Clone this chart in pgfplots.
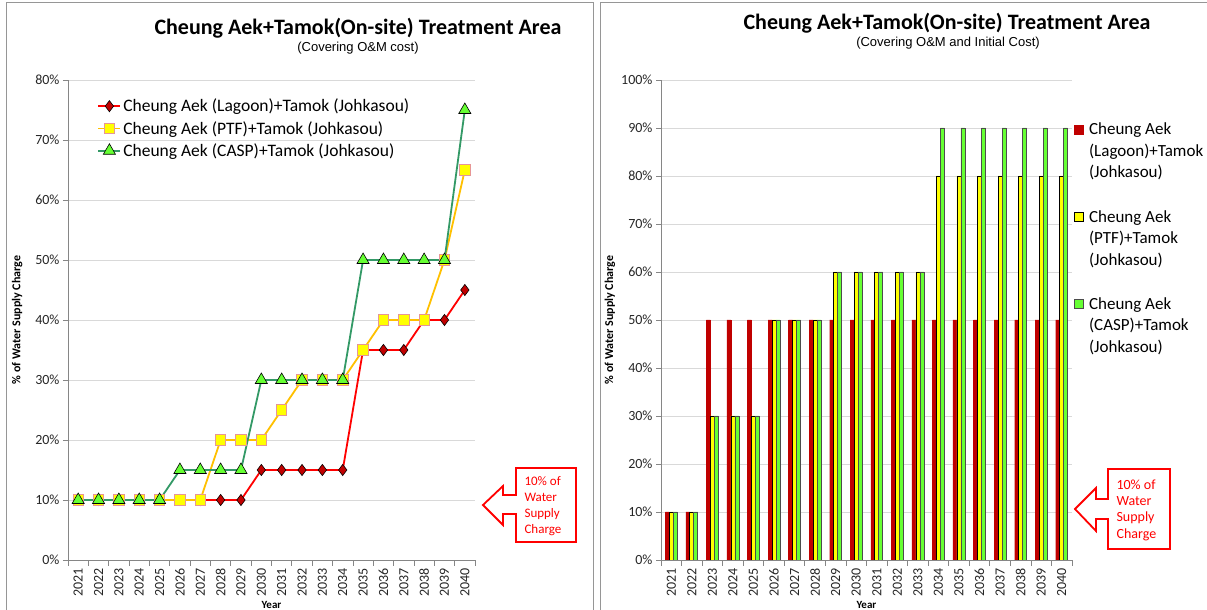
\documentclass[border=0pt]{standalone}
\usepackage{fontspec}
\setmainfont{Carlito}
\newfontfamily\arialfont{Liberation Sans}
\usepackage{pgfplots}
\usepackage{pgfplotstable}
\pgfplotsset{compat=1.18}

\definecolor{lagoonline}{RGB}{255,0,0}
\definecolor{lagoonfill}{RGB}{192,0,0}
\definecolor{ptfline}{RGB}{255,192,0}
\definecolor{ptffill}{RGB}{255,255,0}
\definecolor{ptfedge}{RGB}{230,150,150}
\definecolor{caspline}{RGB}{51,153,102}
\definecolor{caspfill}{RGB}{102,255,51}
\definecolor{gridgray}{RGB}{217,217,217}
\definecolor{axisgray}{RGB}{134,134,134}
\definecolor{framegray}{RGB}{150,150,150}

% O&M only (left panel), years 2021..2040 as 0..19
\pgfplotstableread{
x lagoon ptf casp
0 10 10 10
1 10 10 10
2 10 10 10
3 10 10 10
4 10 10 10
5 10 10 15
6 10 10 15
7 10 20 15
8 10 20 15
9 15 20 30
10 15 25 30
11 15 30 30
12 15 30 30
13 15 30 30
14 35 35 50
15 35 40 50
16 35 40 50
17 40 40 50
18 40 50 50
19 45 65 75
}\omdata

% O&M and initial cost (right panel)
\pgfplotstableread{
x lagoon ptf casp
0 10 10 10
1 10 10 10
2 50 30 30
3 50 30 30
4 50 30 30
5 50 50 50
6 50 50 50
7 50 50 50
8 50 60 60
9 50 60 60
10 50 60 60
11 50 60 60
12 50 60 60
13 50 80 90
14 50 80 90
15 50 80 90
16 50 80 90
17 50 80 90
18 50 80 90
19 50 80 90
}\initdata

\pgfplotsset{
  panel/.style={
    scale only axis, anchor=south west, height=480pt,
    xmin=-0.5, xmax=19.5,
    xtick={0,...,19},
    xticklabels={2021,2022,2023,2024,2025,2026,2027,2028,2029,2030,
                 2031,2032,2033,2034,2035,2036,2037,2038,2039,2040},
    minor xtick={-0.5,0.5,...,19.5},
    major x tick style={draw=none},
    minor x tick style={axisgray, line width=0.8pt},
    minor tick length=6pt,
    y tick style={axisgray, line width=0.8pt},
    major tick length=5pt,
    tick align=outside,
    axis x line*=bottom, axis y line*=left,
    axis line style={axisgray, line width=0.9pt, -},
    ymajorgrids, grid style={gridgray, line width=0.8pt},
    ymin=0,
    yticklabel={\pgfmathparse{int(\tick)}\pgfmathresult\%},
    tick label style={font=\fontsize{14}{14}\selectfont, text=black!85},
    xticklabel style={rotate=90, anchor=east},
    xlabel={Year},
    xlabel style={font=\bfseries\fontsize{11}{11}\selectfont,
      at={(axis description cs:0.5,0)}, anchor=center, yshift=-45pt},
    ylabel={\% of Water Supply Charge},
    ylabel style={font=\bfseries\fontsize{12}{12}\selectfont, anchor=center},
  }
}

\begin{document}
\begin{tikzpicture}
% panel frames
\draw[framegray, line width=1pt] (6pt,-5pt) -- (6pt,607pt) -- (593pt,607pt) -- (593pt,-5pt);
\draw[framegray, line width=1pt] (600pt,-5pt) -- (600pt,607pt) -- (1212pt,607pt);

% titles
\node[font=\bfseries\fontsize{22}{22}\selectfont] at (358pt,582pt) {Cheung Aek+Tamok(On-site) Treatment Area};
\node[font=\arialfont\fontsize{13}{13}\selectfont] at (358pt,562pt) {(Covering O\&M cost)};
\node[font=\bfseries\fontsize{22}{22}\selectfont] at (947pt,587pt) {Cheung Aek+Tamok(On-site) Treatment Area};
\node[font=\arialfont\fontsize{13}{13}\selectfont] at (948pt,567pt) {(Covering O\&M and Initial Cost)};

% left panel: line chart
\begin{axis}[panel, at={(68pt,50pt)}, width=407pt, ymax=80, ytick={0,10,...,80},
  ylabel style={at={(axis description cs:-0.125,0.5)}},
  legend style={at={(axis description cs:0.072,0.965)}, anchor=north west,
    draw=none, fill=none, inner sep=0pt, row sep=4pt,
    font=\fontsize{17.5}{17.5}\selectfont},
  legend cell align=left,
  legend image code/.code={\draw[mark repeat=2,mark phase=2,#1]
    plot coordinates {(0pt,0pt) (11pt,0pt) (22pt,0pt)};},
]
\addplot[lagoonline, line width=1.8pt, mark=diamond*, mark size=5.6pt,
  mark options={fill=lagoonfill, draw=black, line width=0.6pt}]
  table[x=x, y=lagoon] {\omdata};
\addlegendentry{Cheung Aek (Lagoon)+Tamok (Johkasou)}
\addplot[ptfline, line width=1.8pt, mark=square*, mark size=5.2pt,
  mark options={fill=ptffill, draw=ptfedge, line width=0.8pt}]
  table[x=x, y=ptf] {\omdata};
\addlegendentry{Cheung Aek (PTF)+Tamok (Johkasou)}
\addplot[caspline, line width=1.8pt, mark=triangle*, mark size=7pt,
  mark options={fill=caspfill, draw=black, line width=0.6pt}]
  table[x=x, y=casp] {\omdata};
\addlegendentry{Cheung Aek (CASP)+Tamok (Johkasou)}
\end{axis}

% right panel: bar chart
\begin{axis}[panel, at={(661pt,50pt)}, width=411pt, ymax=100, ytick={0,10,...,100},
  ylabel style={at={(axis description cs:-0.124,0.5)}},
  ybar=0pt, bar width=4pt,
  legend style={at={(axis description cs:1.005,0.915)}, anchor=north west,
    draw=none, fill=none, inner sep=0pt, row sep=27pt, column sep=3pt,
    cells={align=left},
    font=\fontsize{17}{21.5}\selectfont},
  legend cell align=left,
  legend image code/.code={\draw[#1, line width=0.8pt] (0pt,17pt) rectangle (9pt,26pt);},
]
\addplot[fill=lagoonfill, draw=lagoonfill, line width=0.2pt]
  table[x=x, y=lagoon] {\initdata};
\addlegendentry{Cheung Aek\\(Lagoon)+Tamok\\(Johkasou)}
\addplot[fill=ptffill, draw=black, line width=0.7pt]
  table[x=x, y=ptf] {\initdata};
\addlegendentry{Cheung Aek\\(PTF)+Tamok\\(Johkasou)}
\addplot[fill=caspfill, draw=black!70, line width=0.7pt]
  table[x=x, y=casp] {\initdata};
\addlegendentry{Cheung Aek\\(CASP)+Tamok\\(Johkasou)}
\end{axis}

% callouts
\draw[red, line width=1.8pt, fill=white, line join=miter]
  (516pt,142pt) -- (576pt,142pt) -- (576pt,68pt) -- (516pt,68pt) -- (516pt,96pt) -- (503pt,96pt)
  -- (503pt,85pt) -- (483pt,105pt) -- (503pt,124pt) -- (503pt,115pt) -- (516pt,115pt) -- cycle;
\node[red, font=\fontsize{13}{16}\selectfont, align=left, anchor=north west]
  at (521pt,137pt) {10\% of\\Water\\Supply\\Charge};
\draw[red, line width=1.8pt, fill=white, line join=miter]
  (1108pt,141pt) -- (1170pt,141pt) -- (1170pt,61pt) -- (1108pt,61pt) -- (1108pt,91pt) -- (1096pt,91pt)
  -- (1096pt,79pt) -- (1075pt,101pt) -- (1096pt,122pt) -- (1096pt,111pt) -- (1108pt,111pt) -- cycle;
\node[red, font=\fontsize{14}{16.3}\selectfont, align=left, anchor=north west]
  at (1113pt,134pt) {10\% of\\Water\\Supply\\Charge};

\pgfresetboundingbox
\path[use as bounding box] (0pt,0pt) rectangle (1207pt,610pt);
\end{tikzpicture}
\end{document}
